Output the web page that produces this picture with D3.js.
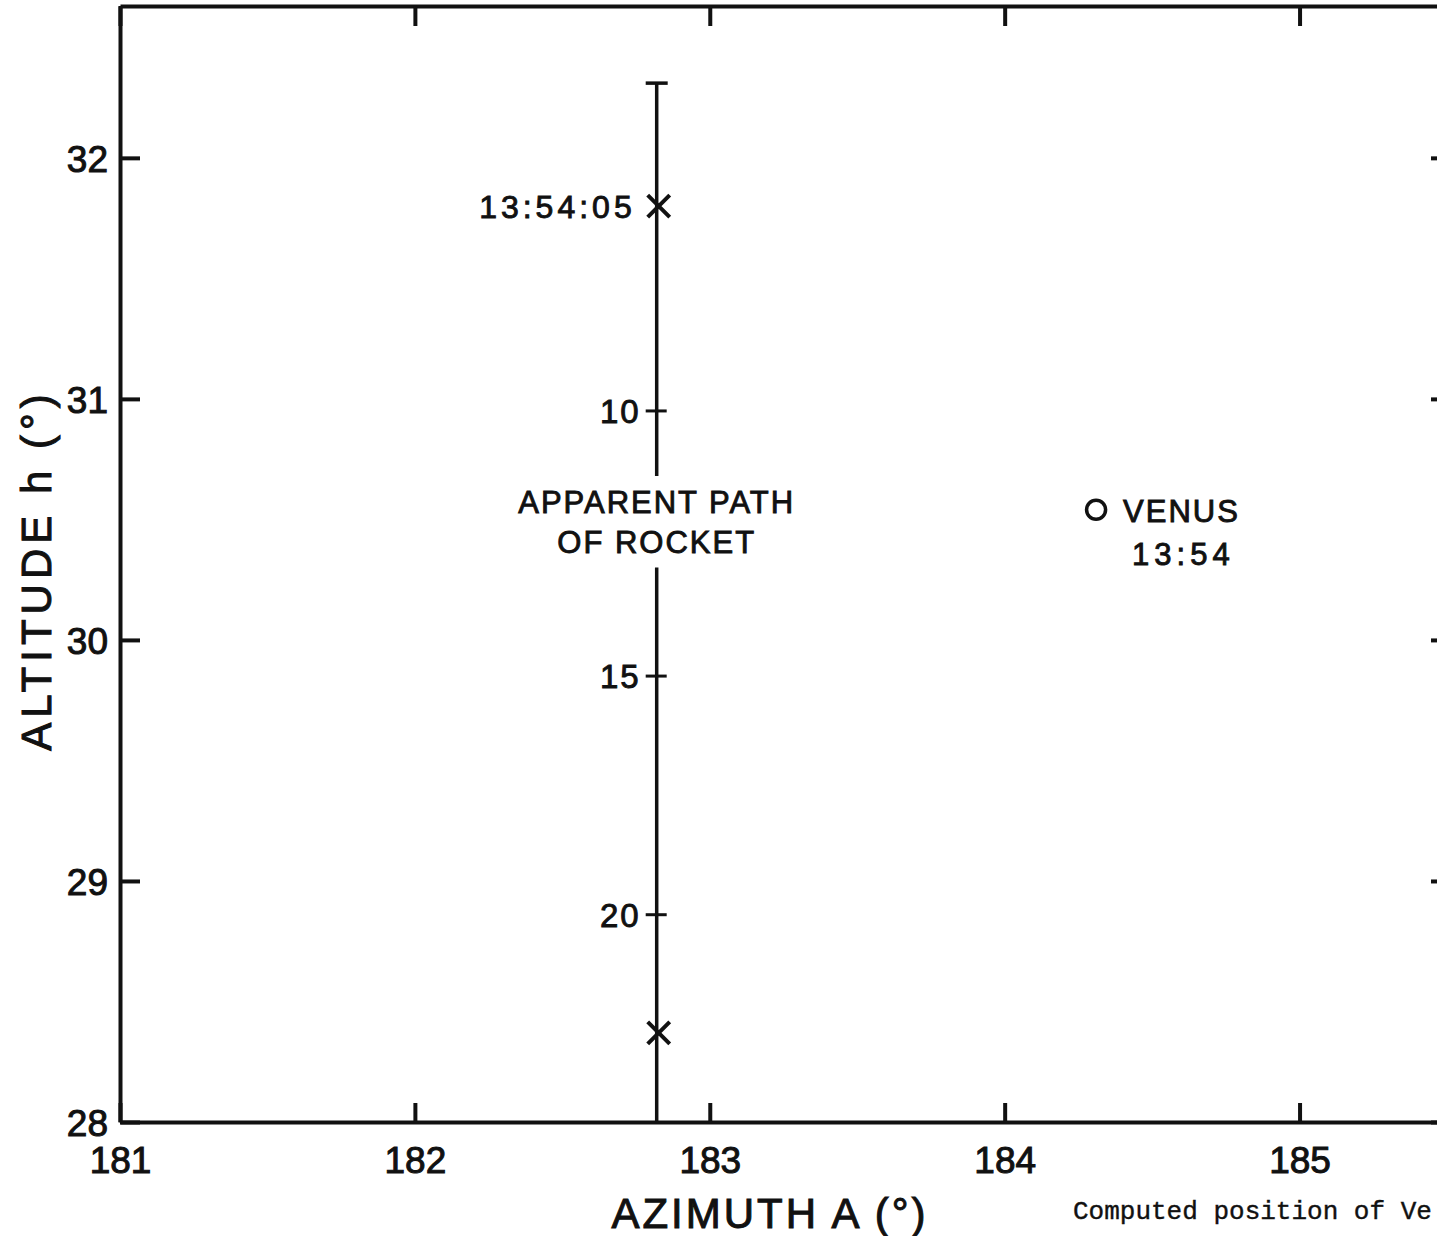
<!DOCTYPE html>
<html>
<head>
<meta charset="utf-8">
<script src="https://cdn.jsdelivr.net/npm/d3@7"></script>
<style>
  body { margin: 0; background: #fff; overflow: hidden; }
  svg { display: block; }
  .lbl { font-family: "Liberation Sans", Arial, sans-serif; fill: #111; }
</style>
</head>
<body>
<svg width="1437" height="1236"></svg>
<script>
// axis ticks
var azTicks = [181, 182, 183, 184, 185];
var altTicks = [28, 29, 30, 31, 32];

// rocket path (vertical in azimuth)
var rocketAz = 182.82;
var pathTop = 32.31, pathBottom = 28;
var gapTop = 30.68, gapBottom = 30.30;   // break for the label
var secTicks = [10, 15, 20];
var secAlt = [30.95, 29.85, 28.86];
var crossLabels = ["13:54:05", ""];
var crossAlt = [31.80, 28.37];

// Venus
var venusAz = 184.31, venusAlt = 30.54;

var svg = d3.select("svg"),
  width = +svg.attr("width"),
  height = +svg.attr("height");

var x = d3.scaleLinear().domain([181, 185.5]).range([120, 1447]);
var y = d3.scaleLinear().domain([28, 32.63]).range([1122, 6]);

var ink = "#111";

// frame axes
svg.append("g")
  .attr("transform", "translate(0," + y(28) + ")")
  .call(d3.axisBottom(x).tickValues(azTicks).tickSize(-19).tickSizeOuter(0).tickPadding(25)
    .tickFormat(d3.format("d")))
  .call(styleAxis)
  .selectAll("text").style("font-size", "37px");

svg.append("g")
  .attr("transform", "translate(" + x(181) + ",0)")
  .call(d3.axisLeft(y).tickValues(altTicks).tickSize(-20).tickSizeOuter(0).tickPadding(12)
    .tickFormat(d3.format("d")))
  .call(styleAxis)
  .selectAll("text").style("font-size", "37px").attr("dy", "0.36em");

svg.append("g")
  .attr("transform", "translate(0," + y(32.63) + ")")
  .call(d3.axisTop(x).tickValues(azTicks).tickSize(-20).tickSizeOuter(0).tickFormat(""))
  .call(styleAxis);

svg.append("g")
  .attr("transform", "translate(" + x(185.5) + ",0)")
  .call(d3.axisRight(y).tickValues(altTicks).tickSize(-16).tickSizeOuter(0).tickFormat(""))
  .call(styleAxis);

function styleAxis(g) {
  g.select(".domain").attr("stroke", ink).attr("stroke-width", 4);
  g.selectAll(".tick line").attr("stroke", ink).attr("stroke-width", 4);
  g.selectAll("text")
    .attr("class", "lbl")
    .attr("fill", ink)
    .style("font-family", "'Liberation Sans', Arial, sans-serif")
    .style("stroke", ink).style("stroke-width", 1);
}

// rocket path, broken around the label
var px = x(rocketAz);
var segs = [[pathTop, gapTop], [gapBottom, pathBottom]];
svg.append("g").selectAll("line")
  .data(segs)
  .enter().append("line")
  .attr("x1", px).attr("x2", px)
  .attr("y1", function(d) { return y(d[0]); })
  .attr("y2", function(d) { return y(d[1]); })
  .attr("stroke", ink).attr("stroke-width", 3.5);

// cap at the top of the path
svg.append("line")
  .attr("x1", px - 11).attr("x2", px + 11)
  .attr("y1", y(pathTop)).attr("y2", y(pathTop))
  .attr("stroke", ink).attr("stroke-width", 3.5);

// second ticks along path
var st = svg.append("g").selectAll("g")
  .data(secTicks)
  .enter().append("g")
  .attr("transform", function(d, i) { return "translate(" + px + "," + y(secAlt[i]) + ")"; });
st.append("line")
  .attr("x1", -11).attr("x2", 10)
  .attr("stroke", ink).attr("stroke-width", 3);
st.append("text")
  .attr("class", "lbl")
  .attr("x", -16).attr("dy", "0.36em")
  .attr("text-anchor", "end")
  .style("font-size", "33px").style("letter-spacing", "2px")
  .style("stroke", ink).style("stroke-width", 0.9)
  .text(function(d) { return d; });

// crosses
var cr = svg.append("g").selectAll("g")
  .data(crossAlt)
  .enter().append("g")
  .attr("transform", function(d) { return "translate(" + (px + 2) + "," + y(d) + ")"; });
cr.append("path")
  .attr("d", "M-11,-11L11,11M-11,11L11,-11")
  .attr("stroke", ink).attr("stroke-width", 4).attr("fill", "none");
cr.append("text")
  .attr("class", "lbl")
  .attr("x", -23).attr("dy", "0.36em")
  .attr("text-anchor", "end")
  .style("font-size", "32px").style("letter-spacing", "4px")
  .style("stroke", ink).style("stroke-width", 0.9)
  .text(function(d, i) { return crossLabels[i]; });

// path label
svg.append("text")
  .attr("class", "lbl")
  .attr("x", px).attr("y", y(gapTop) + 37)
  .attr("text-anchor", "middle")
  .style("font-size", "31px").style("letter-spacing", "2px")
  .style("stroke", ink).style("stroke-width", 0.9)
  .selectAll("tspan")
  .data(["APPARENT PATH", "OF ROCKET"])
  .enter().append("tspan")
  .attr("x", px)
  .attr("dy", function(d, i) { return i ? 40 : 0; })
  .text(function(d) { return d; });

// Venus
svg.append("circle")
  .attr("cx", x(venusAz)).attr("cy", y(venusAlt))
  .attr("r", 9.5)
  .attr("fill", "none").attr("stroke", ink).attr("stroke-width", 3.5);
svg.append("text")
  .attr("class", "lbl")
  .attr("x", x(venusAz) + 27).attr("y", y(venusAlt) + 12)
  .style("font-size", "31px").style("letter-spacing", "2px")
  .style("stroke", ink).style("stroke-width", 0.9)
  .text("VENUS");
svg.append("text")
  .attr("class", "lbl")
  .attr("x", x(venusAz) + 36).attr("y", y(venusAlt) + 55)
  .style("font-size", "31px").style("letter-spacing", "5px")
  .style("stroke", ink).style("stroke-width", 0.9)
  .text("13:54");

// axis titles
svg.append("text")
  .attr("class", "lbl")
  .attr("transform", "translate(51,570) rotate(-90)")
  .attr("text-anchor", "middle")
  .style("font-size", "42px").style("letter-spacing", "5px")
  .style("stroke", ink).style("stroke-width", 1)
  .text("ALTITUDE h (°)");

svg.append("text")
  .attr("class", "lbl")
  .attr("x", 770).attr("y", 1228)
  .attr("text-anchor", "middle")
  .style("font-size", "42px").style("letter-spacing", "3px")
  .style("stroke", ink).style("stroke-width", 1)
  .text("AZIMUTH  A (°)");

// caption, as much as the page shows
svg.append("text")
  .attr("x", 1073).attr("y", 1219)
  .style("font-family", "'Liberation Mono', 'Courier New', monospace")
  .style("font-size", "26px")
  .style("stroke", ink).style("stroke-width", 0.4)
  .attr("fill", ink)
  .text("Computed position of Ve");
</script>
</body>
</html>
